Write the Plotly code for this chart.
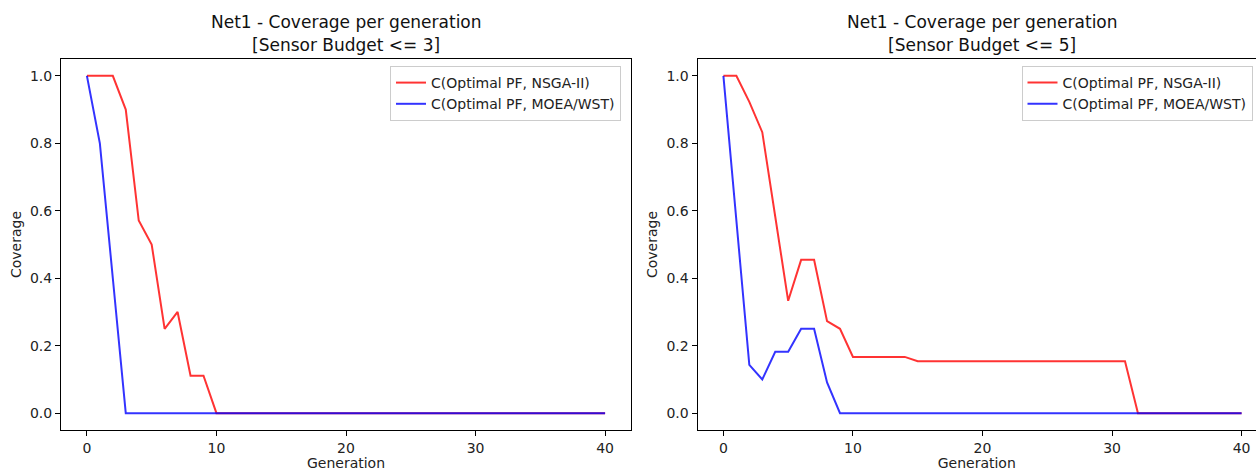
import plotly.graph_objects as go

generations = list(range(41))

# Budget <= 3
nsga_b3 = [1.0, 1.0, 1.0, 0.9, 0.571, 0.5, 0.25, 0.3, 0.111, 0.111] + [0.0] * 31
moea_b3 = [1.0, 0.8, 0.4] + [0.0] * 38

# Budget <= 5
nsga_b5 = ([1.0, 1.0, 0.923, 0.833, 0.583, 0.333, 0.4545, 0.4545, 0.2727, 0.25]
           + [0.1667] * 5 + [0.1538] * 17 + [0.0] * 9)
moea_b5 = [1.0, 0.571, 0.143, 0.1, 0.1818, 0.1818, 0.25, 0.25, 0.0909] + [0.0] * 32

series_names = ["C(Optimal PF, NSGA-II)", "C(Optimal PF, MOEA/WST)"]
titles = ["Net1 - Coverage per generation", "[Sensor Budget <= 3]", "[Sensor Budget <= 5]"]
x_ticks = [0, 10, 20, 30, 40]
y_ticks = [0.0, 0.2, 0.4, 0.6, 0.8, 1.0]

W, H = 1256, 471
FONT = "DejaVu Sans"
RED = "rgba(255,0,0,0.8)"
BLUE = "rgba(0,0,255,0.8)"

fig = go.Figure()

fig.add_trace(go.Scatter(x=generations, y=nsga_b3, mode="lines", name=series_names[0],
                         line=dict(color=RED, width=2), xaxis="x", yaxis="y",
                         legend="legend"))
fig.add_trace(go.Scatter(x=generations, y=moea_b3, mode="lines", name=series_names[1],
                         line=dict(color=BLUE, width=2), xaxis="x", yaxis="y",
                         legend="legend"))
fig.add_trace(go.Scatter(x=generations, y=nsga_b5, mode="lines", name=series_names[0],
                         line=dict(color=RED, width=2), xaxis="x2", yaxis="y2",
                         legend="legend2"))
fig.add_trace(go.Scatter(x=generations, y=moea_b5, mode="lines", name=series_names[1],
                         line=dict(color=BLUE, width=2), xaxis="x2", yaxis="y2",
                         legend="legend2"))

left_l, left_r = 61, 631
right_l = 697.5
unit = (left_r - left_l) / 44.0
top_px, bot_px = 59, 430
ydom = [1 - bot_px / H, 1 - top_px / H]

axis_common = dict(showline=True, linecolor="black", linewidth=1, ticks="outside",
                   ticklen=5, tickwidth=1, tickcolor="black", showgrid=False, zeroline=False,
                   tickfont=dict(family=FONT, size=14, color="#222"))

fig.update_layout(
    width=W, height=H, margin=dict(l=0, r=0, t=0, b=0),
    paper_bgcolor="white", plot_bgcolor="white",
    font=dict(family=FONT, size=14, color="#222"),
    xaxis=dict(domain=[left_l / W, left_r / W], range=[-2, 42], tickvals=x_ticks,
               mirror=True, anchor="y",
               title=dict(text="Generation", standoff=3, font=dict(size=14)), **axis_common),
    yaxis=dict(domain=ydom, range=[-0.05, 1.05], tickvals=y_ticks, tickformat=".1f",
               mirror=True, anchor="x",
               title=dict(text="Coverage", standoff=5, font=dict(size=14)), **axis_common),
    xaxis2=dict(domain=[right_l / W, 1.0], range=[-2, -2 + (W - right_l) / unit], tickvals=x_ticks,
                mirror=True, anchor="y2",
                title=dict(text="Generation", standoff=3, font=dict(size=14)), **axis_common),
    yaxis2=dict(domain=ydom, range=[-0.05, 1.05], tickvals=y_ticks, tickformat=".1f",
                mirror=False, anchor="x2",
                title=dict(text="Coverage", standoff=5, font=dict(size=14)), **axis_common),
    legend=dict(x=621 / W, y=1 - 66 / H, xanchor="right", yanchor="top",
                bgcolor="rgba(255,255,255,0.9)", bordercolor="#cccccc", borderwidth=1,
                font=dict(family=FONT, size=14, color="#222")),
    legend2=dict(x=1021.5 / W, y=1 - 66 / H, xanchor="left", yanchor="top",
                 bgcolor="rgba(255,255,255,0.9)", bordercolor="#cccccc", borderwidth=1,
                 font=dict(family=FONT, size=14, color="#222")),
    showlegend=True,
)

centers = [(left_l + left_r) / 2, right_l + 22 * unit]
subs = [titles[1], titles[2]]
for cx, sub in zip(centers, subs):
    fig.add_annotation(text=titles[0], x=cx / W, y=1 - 22 / H, xref="paper", yref="paper",
                       xanchor="center", yanchor="middle", showarrow=False,
                       font=dict(family=FONT, size=17, color="#111"))
    fig.add_annotation(text=sub, x=cx / W, y=1 - 45 / H, xref="paper", yref="paper",
                       xanchor="center", yanchor="middle", showarrow=False,
                       font=dict(family=FONT, size=17, color="#111"))

fig.write_html("out.html")
